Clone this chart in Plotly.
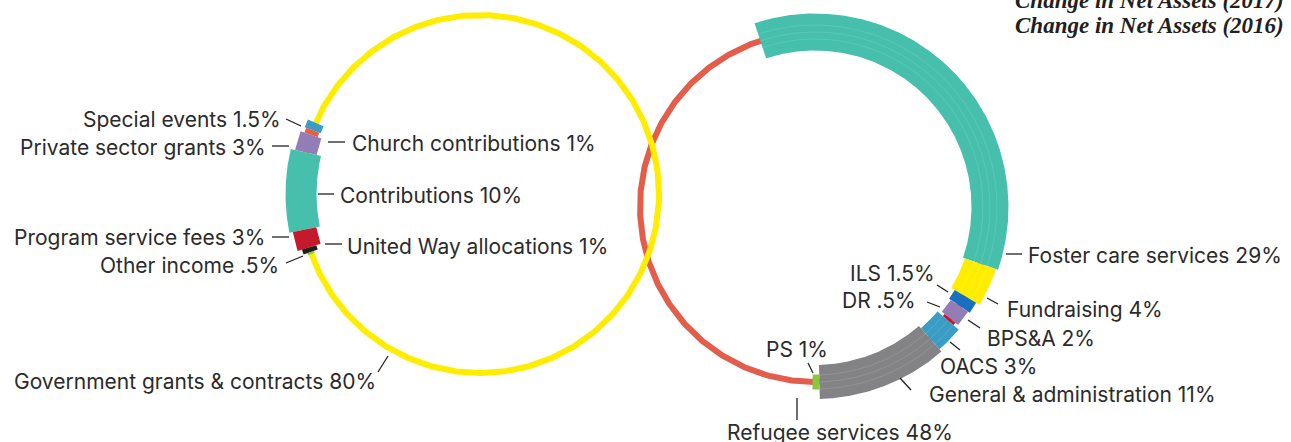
import numpy as np
import plotly.graph_objects as go

# ---------------- data ----------------
income_labels = ["Special events", "Church contributions", "Private sector grants",
                 "Contributions", "Program service fees", "United Way allocations",
                 "Other income"]
income_pct = [1.5, 1, 3, 10, 3, 1, 0.5]
income_pct_text = ["1.5%", "1%", "3%", "10%", "3%", "1%", ".5%"]
income_rest_label = "Government grants & contracts"
income_rest_pct_text = "80%"

expense_labels = ["Foster care services", "Fundraising", "ILS", "BPS&A", "DR",
                  "OACS", "General & administration", "PS"]
expense_pct = [29, 4, 1.5, 2, 0.5, 3, 11, 1]
expense_pct_text = ["29%", "4%", "1.5%", "2%", ".5%", "3%", "11%", "1%"]
expense_rest_label = "Refugee services"
expense_rest_pct_text = "48%"

title_lines = ["Change in Net Assets (2017)", "Change in Net Assets (2016)"]

# ---------------- styles / layout ----------------
income_colors = ["#3A9DC6", "#E65E4B", "#927DB6", "#46BFAD", "#C41A2B", "#231F20", "#8CC63F"]
income_widths = [17, 14, 22, 31, 24, 15, 7]
expense_colors = ["#46BFAD", "#FFED00", "#1B6FBF", "#927DB6", "#C41A2B", "#3A9DC6", "#838385", "#8CC63F"]
expense_widths = [37, 33, 25, 21, 14, 28, 34, 15]
expense_texture = [True, True, False, False, False, True, True, False]

LEFT = dict(cx=480, cy=194, r=179, start=156.6, direction=1, span=43, ring="#FFED00")
RIGHT = dict(cx=815, cy=207, r=175, start=108.2, direction=-1, span=199, ring="#E35D4B")
POWER = 1.2  # arc-length scale exponent

# label layout: (text x, text y, xanchor, leader x0, y0, x1, y1)
income_label_pos = [
    (283, 119, "right", 286, 119, 301, 126),
    (350, 143, "left", 328, 142, 345, 142),
    (268, 147, "right", 272, 146, 289, 146),
    (338, 195, "left", 318, 194, 334, 194),
    (267, 237, "right", 272, 237, 289, 237),
    (345, 246, "left", 325, 244, 342, 244),
    (281, 265, "right", 286, 263, 303, 256),
]
income_rest_pos = (378, 381, "right", 378, 372, 388, 356)
expense_label_pos = [
    (1026, 255, "left", 1006, 254, 1022, 254),
    (1005, 309, "left", 987, 298, 998, 304),
    (937, 273, "right", 937, 285, 948, 292),
    (985, 338, "left", 968, 320, 980, 328),
    (918, 300, "right", 927, 302, 940, 307),
    (938, 366, "left", 950, 342, 960, 350),
    (927, 394, "left", 900, 378, 911, 390),
    (797, 349, "center", 808, 363, 813, 373),
]
expense_rest_pos = (840, 432, "center", 797, 398, 797, 420)

W, H = 1291, 442
FONT = "Inter"
FSIZE = 21
TXT = "#2b2b2b"

fig = go.Figure()


def pt(c, r, deg):
    a = np.deg2rad(deg)
    return c["cx"] + r * np.cos(a), c["cy"] - r * np.sin(a)


def ring(c, width):
    th = np.linspace(0, 360, 721)
    x, y = pt(c, c["r"], th)
    fig.add_trace(go.Scatter(x=x, y=y, mode="lines", line=dict(color=c["ring"], width=width),
                             hoverinfo="skip", showlegend=False))


def segments(c, vals, colors, widths, names, texture=None):
    w = np.array(vals, dtype=float) ** POWER
    spans = w / w.sum() * c["span"]
    a = c["start"]
    for i, (v, s, col, wd, nm) in enumerate(zip(vals, spans, colors, widths, names)):
        a0, a1 = a, a + c["direction"] * s
        th = np.linspace(a0, a1, max(int(abs(s) * 4), 4))
        xo, yo = pt(c, c["r"] + wd / 2, th)
        xi, yi = pt(c, c["r"] - wd / 2, th[::-1])
        fig.add_trace(go.Scatter(x=np.r_[xo, xi, xo[:1]], y=np.r_[yo, yi, yo[:1]],
                                 mode="lines", fill="toself", fillcolor=col,
                                 line=dict(width=0, color=col), name=nm,
                                 hoverinfo="name", showlegend=False))
        if texture is not None and texture[i]:
            for off in (-7, 0, 7):
                xl, yl = pt(c, c["r"] + off, th)
                fig.add_trace(go.Scatter(x=xl, y=yl, mode="lines",
                                         line=dict(color="rgba(255,255,255,0.2)", width=0.6),
                                         hoverinfo="skip", showlegend=False))
        a = a1


# right ring first (yellow lies above red)
ring(RIGHT, 6)
ring(LEFT, 6)
segments(LEFT, income_pct, income_colors, income_widths, income_labels)
segments(RIGHT, expense_pct, expense_colors, expense_widths, expense_labels, expense_texture)

annotations = []
shapes = []


def label(text, pos):
    tx, ty, anchor, x0, y0, x1, y1 = pos
    annotations.append(dict(x=tx, y=ty, xref="x", yref="y", text=text, showarrow=False,
                            xanchor=anchor, yanchor="middle",
                            font=dict(family=FONT, size=FSIZE, color=TXT)))
    shapes.append(dict(type="line", x0=x0, y0=y0, x1=x1, y1=y1, xref="x", yref="y",
                       line=dict(color="#231F20", width=1.3)))


for nm, pt_txt, pos in zip(income_labels, income_pct_text, income_label_pos):
    label(f"{nm} {pt_txt}", pos)
label(f"{income_rest_label} {income_rest_pct_text}", income_rest_pos)
for nm, pt_txt, pos in zip(expense_labels, expense_pct_text, expense_label_pos):
    label(f"{nm} {pt_txt}", pos)
label(f"{expense_rest_label} {expense_rest_pct_text}", expense_rest_pos)

for i, t in enumerate(title_lines):
    annotations.append(dict(x=1286, y=0 + 25 * i, xref="x", yref="y", text=f"<b><i>{t}</i></b>",
                            showarrow=False, xanchor="right", yanchor="middle",
                            font=dict(family="Liberation Serif", size=23, color="#231F20")))

fig.update_layout(
    width=W, height=H, margin=dict(l=0, r=0, t=0, b=0),
    paper_bgcolor="white", plot_bgcolor="white",
    xaxis=dict(range=[0, W], visible=False, fixedrange=True),
    yaxis=dict(range=[H, 0], visible=False, fixedrange=True),
    annotations=annotations, shapes=shapes, showlegend=False,
)
fig.write_html("out.html", config={"displayModeBar": False},
               post_script="document.body.style.margin='0';document.body.style.overflow='hidden';")
